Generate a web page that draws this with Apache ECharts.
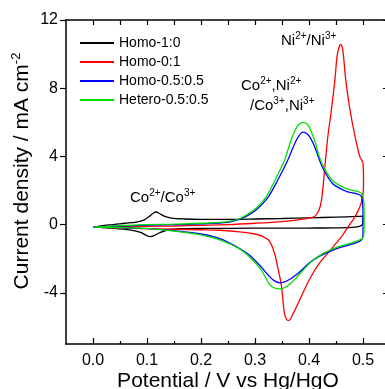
<!DOCTYPE html>
<html>
<head>
<meta charset="utf-8">
<script src="https://cdn.jsdelivr.net/npm/echarts@6/dist/echarts.min.js"></script>
<style>
  html, body { margin: 0; padding: 0; background: #fff; }
  #chart { width: 385px; height: 389px; }
</style>
</head>
<body>
<div id="chart"></div>
<script>
// axis ticks
const xTicks = [0, 0.1, 0.2, 0.3, 0.4, 0.5];
const xMinorTicks = [0.05, 0.15, 0.25, 0.35, 0.45];
const yTicks = [-4, 0, 4, 8, 12];

const seriesNames = ['Homo-1:0', 'Homo-0:1', 'Homo-0.5:0.5', 'Hetero-0.5:0.5'];

// Homo-1:0 (black) - anodic sweep then cathodic sweep
const homo10V = [0, 0.03, 0.06, 0.08, 0.095, 0.105, 0.112, 0.117, 0.124, 0.133, 0.145, 0.17, 0.2, 0.25, 0.3, 0.35, 0.4, 0.45, 0.49, 0.5,
  0.5, 0.497, 0.485, 0.45, 0.4, 0.3, 0.2, 0.16, 0.14, 0.125, 0.113, 0.106, 0.098, 0.088, 0.07, 0.04, 0];
const homo10I = [-0.15, -0.02, 0.08, 0.15, 0.28, 0.5, 0.68, 0.74, 0.64, 0.48, 0.38, 0.33, 0.31, 0.31, 0.33, 0.36, 0.4, 0.44, 0.48, 0.5,
  0.15, -0.05, -0.15, -0.19, -0.2, -0.21, -0.22, -0.24, -0.3, -0.45, -0.64, -0.7, -0.62, -0.45, -0.32, -0.22, -0.15];

// Homo-0:1 (red)
const homo01V = [0, 0.05, 0.1, 0.15, 0.2, 0.25, 0.3, 0.35, 0.38, 0.4, 0.41, 0.416, 0.421, 0.425, 0.43, 0.435, 0.441, 0.448, 0.452, 0.456, 0.459, 0.462, 0.464, 0.468, 0.475, 0.485, 0.494, 0.5,
  0.501, 0.5, 0.496, 0.49, 0.482, 0.472, 0.463, 0.45, 0.438, 0.42, 0.401, 0.383, 0.37, 0.363, 0.358, 0.354, 0.349, 0.343, 0.336, 0.327, 0.315, 0.3, 0.272, 0.235, 0.2, 0.15, 0.1, 0.05, 0];
const homo01I = [-0.15, -0.12, -0.1, -0.08, -0.04, 0.0, 0.08, 0.18, 0.28, 0.38, 0.48, 0.7, 1.1, 1.9, 3.6, 5.2, 6.6, 8.5, 9.9, 10.45, 10.55, 10.35, 9.85, 8.5, 6.9, 5.2, 4.0, 3.6,
  2.6, 1.8, 1.2, 0.75, 0.3, -0.15, -0.58, -1.1, -1.56, -2.23, -3.2, -4.4, -5.25, -5.62, -5.55, -5.1, -3.6, -2.63, -1.66, -0.98, -0.7, -0.55, -0.42, -0.33, -0.3, -0.27, -0.24, -0.2, -0.15];

// Homo-0.5:0.5 (blue)
const homo55V = [0, 0.05, 0.1, 0.15, 0.2, 0.25, 0.272, 0.29, 0.305, 0.324, 0.342, 0.361, 0.377, 0.389, 0.4, 0.41, 0.417, 0.426, 0.444, 0.469, 0.497,
  0.5, 0.5, 0.497, 0.482, 0.45, 0.42, 0.401, 0.377, 0.358, 0.346, 0.336, 0.327, 0.309, 0.29, 0.266, 0.235, 0.2, 0.15, 0.1, 0.05, 0];
const homo55I = [-0.15, -0.08, -0.03, 0.0, 0.05, 0.14, 0.32, 0.6, 0.95, 1.6, 2.6, 3.8, 4.98, 5.43, 5.2, 4.6, 4.0, 3.3, 2.4, 1.95, 1.66,
  0.5, -0.5, -0.9, -1.12, -1.42, -1.85, -2.24, -2.93, -3.32, -3.41, -3.3, -3.05, -2.4, -1.8, -1.3, -0.82, -0.55, -0.35, -0.23, -0.18, -0.15];

// Hetero-0.5:0.5 (green)
const hetero55V = [0, 0.05, 0.1, 0.15, 0.2, 0.25, 0.272, 0.29, 0.305, 0.32, 0.337, 0.355, 0.367, 0.379, 0.389, 0.398, 0.41, 0.42, 0.43, 0.445, 0.47, 0.498,
  0.502, 0.502, 0.499, 0.48, 0.45, 0.42, 0.4, 0.377, 0.36, 0.346, 0.335, 0.327, 0.31, 0.29, 0.27, 0.235, 0.2, 0.15, 0.1, 0.05, 0];
const hetero55I = [-0.15, -0.06, 0.0, 0.03, 0.08, 0.18, 0.36, 0.68, 1.05, 1.6, 2.6, 3.8, 4.98, 5.8, 6.0, 5.85, 4.98, 3.9, 3.2, 2.55, 2.1, 1.8,
  0.8, -0.3, -0.8, -1.05, -1.35, -1.8, -2.3, -3.1, -3.6, -3.77, -3.7, -3.5, -2.6, -1.9, -1.4, -0.9, -0.6, -0.38, -0.22, -0.18, -0.15];

const colors = ['#000000', '#ff0000', '#0000ff', '#00e000'];
const curves = [[homo10V, homo10I], [homo01V, homo01I], [homo55V, homo55I], [hetero55V, hetero55I]];

const FONT = 'Liberation Sans, Arial, sans-serif';
const supRich = {
  a: { fontSize: 15, fontFamily: FONT, color: '#000' },
  s: { fontSize: 10, fontFamily: FONT, color: '#000', padding: [0, 0, 9, 0] }
};

function pairs(v, i) {
  return v.map((x, k) => [x, i[k]]);
}

const chart = echarts.init(document.getElementById('chart'));

const tickAxisX = (pos, values, len, showLine) => ({
  type: 'value', position: pos, min: -0.05, max: 0.55,
  axisLine: { show: showLine, onZero: false, lineStyle: { color: '#000', width: 1.5 } },
  axisTick: { show: true, inside: true, length: len, customValues: values, lineStyle: { color: '#000', width: 1.2 } },
  axisLabel: { show: false },
  splitLine: { show: false }
});

chart.setOption({
  animation: false,
  grid: { left: 66, top: 20, right: -5, bottom: 45, containLabel: false, outerBoundsMode: 'none' },
  legend: {
    orient: 'vertical', left: 79, top: 36, padding: 0,
    itemWidth: 34, itemHeight: 14, itemGap: 5,
    itemStyle: { opacity: 0 },
    textStyle: { fontSize: 14, fontFamily: FONT, color: '#000' },
    data: seriesNames
  },
  xAxis: [
    {
      type: 'value', position: 'bottom', min: -0.05, max: 0.55,
      name: 'Potential / V vs Hg/HgO', nameLocation: 'middle', nameGap: 27, nameMoveOverlap: false,
      nameTextStyle: { fontSize: 21, fontFamily: FONT, color: '#000' },
      axisLine: { onZero: false, lineStyle: { color: '#000', width: 1.5 } },
      axisTick: { inside: true, length: 6, customValues: xTicks, lineStyle: { color: '#000', width: 1.2 } },
      axisLabel: { customValues: xTicks, fontSize: 16, fontFamily: FONT, color: '#000', margin: 9,
        formatter: v => v.toFixed(1) },
      splitLine: { show: false }
    },
    tickAxisX('bottom', xMinorTicks, 3, false),
    tickAxisX('top', xTicks, 5, true),
    tickAxisX('top', xMinorTicks, 5, false)
  ],
  yAxis: [
    {
      type: 'value', position: 'left', min: -7, max: 12,
      name: '{a|Current density / mA cm}{s|-2}', nameLocation: 'middle', nameGap: 31, nameMoveOverlap: false,
      nameTextStyle: {
        padding: [0, 0, 0, 22],
        rich: {
          a: { fontSize: 21, fontFamily: FONT, color: '#000' },
          s: { fontSize: 13, fontFamily: FONT, color: '#000', padding: [0, 0, 12, 0] }
        }
      },
      axisLine: { onZero: false, lineStyle: { color: '#000', width: 1.5 } },
      axisTick: { inside: false, length: 6, customValues: yTicks, lineStyle: { color: '#000', width: 1.2 } },
      axisLabel: { customValues: yTicks, fontSize: 16, fontFamily: FONT, color: '#000', margin: 8 },
      splitLine: { show: false }
    },
    {
      type: 'value', position: 'right', min: -7, max: 12,
      axisLine: { show: true, onZero: false, lineStyle: { color: '#000', width: 1.5 } },
      axisTick: { inside: true, length: 7, customValues: yTicks, lineStyle: { color: '#000', width: 1.2 } },
      axisLabel: { show: false },
      splitLine: { show: false }
    }
  ],
  series: curves.map((c, k) => ({
    name: seriesNames[k],
    type: 'line',
    data: pairs(c[0], c[1]),
    showSymbol: false,
    symbol: 'none',
    smooth: 0.3,
    color: colors[k],
    lineStyle: { color: colors[k], width: 1.3 },
    z: 2 + k
  })),
  graphic: [
    { type: 'text', left: 281, top: 31, style: { text: '{a|Ni}{s|2+}{a|/Ni}{s|3+}', rich: supRich } },
    { type: 'text', left: 241, top: 76, style: { text: '{a|Co}{s|2+}{a|,Ni}{s|2+}', rich: supRich } },
    { type: 'text', left: 250, top: 96, style: { text: '{a|/Co}{s|3+}{a|,Ni}{s|3+}', rich: supRich } },
    { type: 'text', left: 130, top: 188, style: { text: '{a|Co}{s|2+}{a|/Co}{s|3+}', rich: supRich } }
  ]
});
</script>
</body>
</html>
